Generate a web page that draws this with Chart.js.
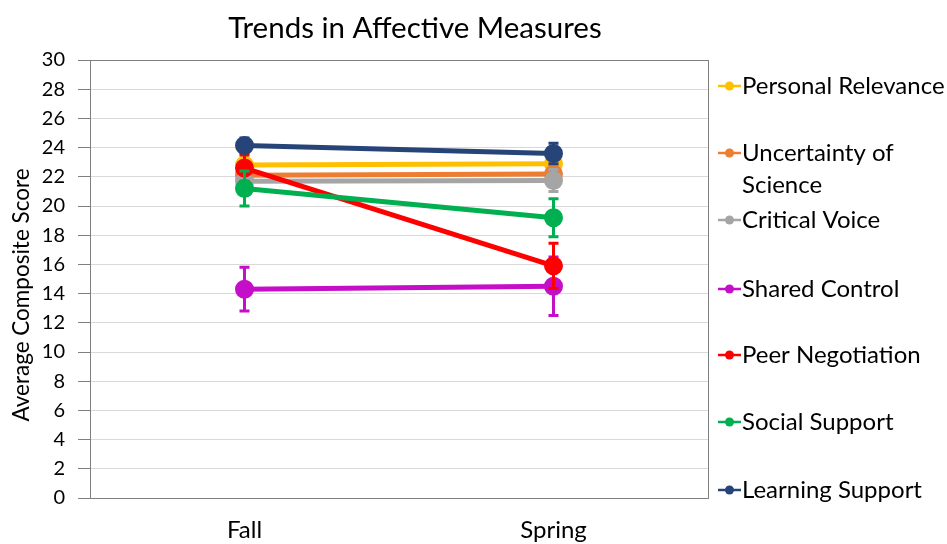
<!DOCTYPE html>
<html>
<head>
<meta charset="utf-8">
<script src="https://cdn.jsdelivr.net/npm/chart.js@4/dist/chart.umd.min.js"></script>
<style>
  html, body { margin: 0; padding: 0; background: #ffffff; }
  #wrap { position: relative; width: 947px; height: 544px; overflow: hidden; }
  canvas { display: block; }
</style>
</head>
<body>
<div id="wrap"><canvas id="chart" width="947" height="544"></canvas></div>
<script>
// Survey periods
const periods = ['Fall', 'Spring'];

// Composite score means per scale (Fall, Spring)
const personalRelevance = [22.8, 22.9];
const uncertaintyOfScience = [22.1, 22.2];
const criticalVoice = [21.7, 21.75];
const sharedControl = [14.3, 14.5];
const peerNegotiation = [22.6, 15.9];
const socialSupport = [21.2, 19.2];
const learningSupport = [24.15, 23.6];

// Error bar half-widths per scale (Fall, Spring)
const personalRelevanceErr = [0.4, 0.4];
const uncertaintyOfScienceErr = [0.5, 0.6];
const criticalVoiceErr = [0.6, 0.75];
const sharedControlErr = [1.5, 2.0];
const peerNegotiationErr = [0.9, 1.55];
const socialSupportErr = [1.2, 1.3];
const learningSupportErr = [0.5, 0.7];

// Y-axis range and step
const yMin = 0, yMax = 30, yStep = 2;

const seriesNames = ['Personal Relevance', 'Uncertainty of Science', 'Critical Voice',
  'Shared Control', 'Peer Negotiation', 'Social Support', 'Learning Support'];
const legendLines = [['Personal Relevance'], ['Uncertainty of', 'Science'], ['Critical Voice'],
  ['Shared Control'], ['Peer Negotiation'], ['Social Support'], ['Learning Support']];
const seriesValues = [personalRelevance, uncertaintyOfScience, criticalVoice,
  sharedControl, peerNegotiation, socialSupport, learningSupport];
const seriesErrors = [personalRelevanceErr, uncertaintyOfScienceErr, criticalVoiceErr,
  sharedControlErr, peerNegotiationErr, socialSupportErr, learningSupportErr];
const seriesColors = ['#FFC000', '#ED7D31', '#A5A5A5', '#C40EC8', '#FF0000', '#00B050', '#264478'];

const FONT = 'Lato, "Open Sans", sans-serif';

const datasets = seriesNames.map((name, i) => ({
  label: name,
  data: seriesValues[i],
  errors: seriesErrors[i],
  borderColor: seriesColors[i],
  backgroundColor: seriesColors[i],
  pointBackgroundColor: seriesColors[i],
  pointBorderColor: seriesColors[i],
  borderWidth: 5,
  pointRadius: 7,
  pointHoverRadius: 7,
  tension: 0,
  // later series sit on top
  order: seriesNames.length - i
}));

// Vertical error bars with caps, drawn under each series' line
const errorBars = {
  id: 'errorBars',
  beforeDatasetDraw(chart, args) {
    const ds = chart.data.datasets[args.index];
    const meta = args.meta;
    const y = chart.scales.y;
    const ctx = chart.ctx;
    ctx.save();
    ctx.strokeStyle = ds.borderColor;
    ctx.lineWidth = 3;
    meta.data.forEach((pt, j) => {
      const v = ds.data[j], e = ds.errors[j];
      const yTop = y.getPixelForValue(v + e);
      const yBot = y.getPixelForValue(v - e);
      const x = pt.x;
      ctx.beginPath();
      ctx.moveTo(x, yTop); ctx.lineTo(x, yBot);
      ctx.moveTo(x - 5, yTop); ctx.lineTo(x + 5, yTop);
      ctx.moveTo(x - 5, yBot); ctx.lineTo(x + 5, yBot);
      ctx.stroke();
    });
    ctx.restore();
  }
};

// Plot frame, title, axis title and side legend
const decorations = {
  id: 'decorations',
  beforeDatasetsDraw(chart) {
    const { ctx, chartArea: a } = chart;
    ctx.save();
    ctx.strokeStyle = '#7f7f7f';
    ctx.lineWidth = 1;
    ctx.strokeRect(Math.round(a.left) + 0.5, Math.round(a.top) + 0.5,
      Math.round(a.right - a.left), Math.round(a.bottom - a.top));
    ctx.restore();
  },
  afterDraw(chart) {
    const ctx = chart.ctx;
    ctx.save();
    ctx.fillStyle = '#000000';
    ctx.textBaseline = 'middle';
    ctx.textAlign = 'center';
    ctx.font = '29.5px ' + FONT;
    ctx.fillText('Trends in Affective Measures', 415, 28);

    ctx.save();
    ctx.translate(22, 295);
    ctx.rotate(-Math.PI / 2);
    ctx.font = '22.5px ' + FONT;
    ctx.fillText('Average Composite Score', 0, 0);
    ctx.restore();

    const rows = [86, 153, 220, 289, 355, 422, 490];
    ctx.textAlign = 'left';
    ctx.font = '24px ' + FONT;
    legendLines.forEach((lines, i) => {
      const yy = rows[i];
      ctx.strokeStyle = seriesColors[i];
      ctx.fillStyle = seriesColors[i];
      ctx.lineWidth = 2.5;
      ctx.beginPath();
      ctx.moveTo(718, yy); ctx.lineTo(741, yy);
      ctx.stroke();
      ctx.beginPath();
      ctx.arc(729.5, yy, 4.5, 0, Math.PI * 2);
      ctx.fill();
      ctx.fillStyle = '#000000';
      lines.forEach((t, k) => ctx.fillText(t, 742, yy + k * 32));
    });
    ctx.restore();
  }
};

new Chart(document.getElementById('chart'), {
  type: 'line',
  data: { labels: periods, datasets },
  options: {
    responsive: false,
    animation: false,
    events: [],
    layout: { padding: { top: 60, right: 239, left: 0, bottom: 0 } },
    plugins: {
      legend: { display: false },
      title: { display: false },
      tooltip: { enabled: false }
    },
    scales: {
      x: {
        offset: true,
        grid: { display: false, drawTicks: false },
        border: { display: false },
        ticks: { color: '#000000', font: { family: FONT, size: 24 }, padding: 18 },
        afterFit(scale) { scale.height = 46; }
      },
      y: {
        min: yMin,
        max: yMax,
        grid: { color: '#d9d9d9', tickColor: '#7f7f7f', tickLength: 12, lineWidth: 1 },
        border: { display: false },
        ticks: { stepSize: yStep, color: '#000000', font: { family: FONT, size: 20 }, padding: 13 },
        afterFit(scale) { scale.width = 90; }
      }
    }
  },
  plugins: [errorBars, decorations]
});
</script>
</body>
</html>
